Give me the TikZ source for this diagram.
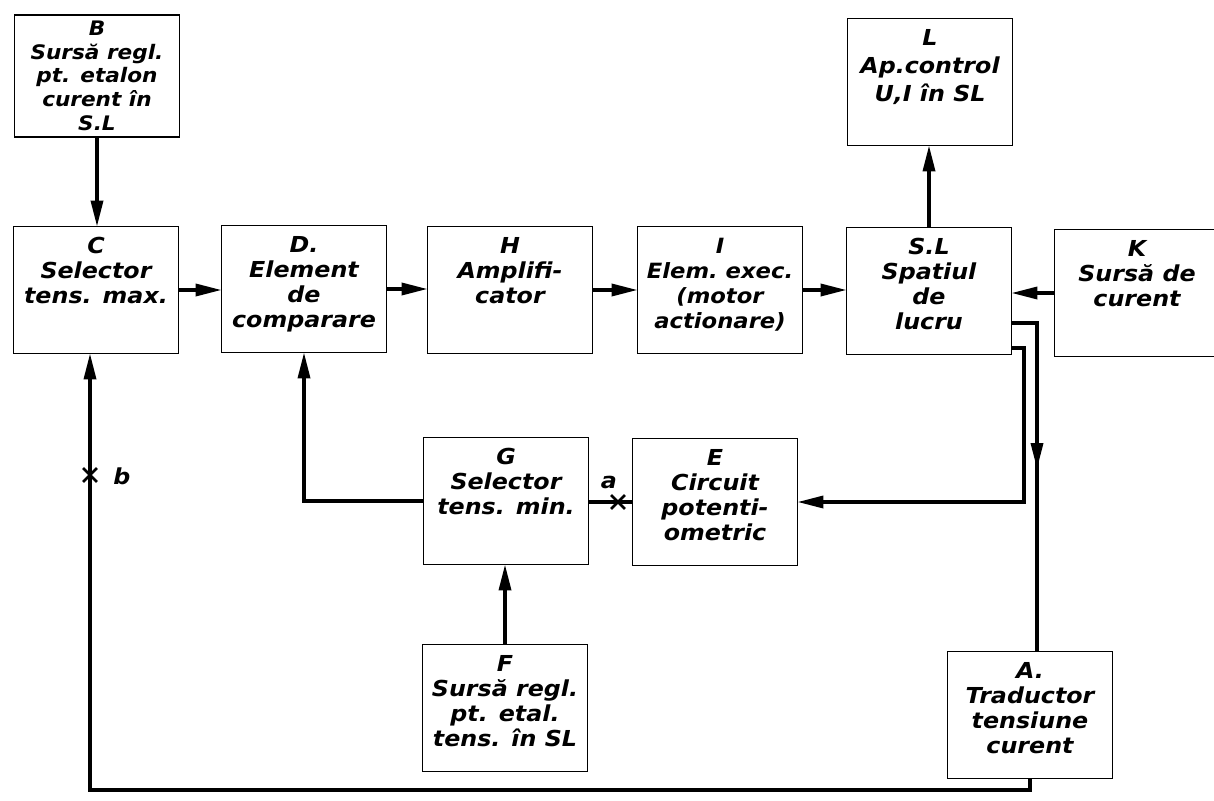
\documentclass[tikz,border=0pt]{standalone}
\usepackage{fontspec}
\setmainfont{DejaVu Sans}[FakeStretch=1.08]
\usepackage{tikz}
\usetikzlibrary{arrows.meta, positioning, shapes.misc}

\begin{document}
\begin{tikzpicture}[
  x=1pt, y=-1pt,
  blk/.style={draw, line width=1.8pt, rectangle, inner sep=5pt,
    text height=22pt, text depth=95pt,
    font=\fontsize{22}{25}\selectfont\bfseries\itshape,
    execute at begin node={\begin{minipage}[t]{155pt}\centering},
    execute at end node={\end{minipage}}},
  wire/.style={line width=3.5pt},
  arr/.style={-{Triangle[length=26pt, width=12pt]}, shorten >=-1pt},
  cut/.style={cross out, draw, line width=2.8pt, minimum size=11pt, inner sep=0pt},
  lbl/.style={font=\fontsize{22}{25}\selectfont\bfseries\itshape, inner sep=0pt}
]
  \clip (0,0) rectangle (1214,800);

  % --- upper row ---
  \node[blk, text height=16pt, text depth=96pt,
    font=\fontsize{20}{23.5}\selectfont\bfseries\itshape] (B) at (97,76)
    {B\\Sursă regl.\\pt. etalon\\curent în\\S.L};
  \node[blk, font=\fontsize{22}{28}\selectfont\bfseries\itshape] (L) at (930,82)
    {L\\Ap.control\\U,I în SL};

  % --- main chain ---
  \node[blk] (C) at (96,290) {C\\Selector\\tens. max.};
  \node[blk] (D) at (304,289) {D.\\Element\\de\\comparare};
  \node[blk] (H) at (510,290) {H\\Amplifi-\\cator};
  \node[blk, font=\fontsize{21}{25}\selectfont\bfseries\itshape] (I) at (720,290)
    {I\\Elem.~exec.\\(motor\\actionare)};
  \node[blk] (SL) at (929,291) {S.L\\Spatiul\\de\\lucru};
  \node[blk] (K) at (1137,293) {K\\Sursă de\\curent};

  % --- lower blocks ---
  \node[blk] (G) at (506,501) {G\\Selector\\tens. min.};
  \node[blk] (E) at (715,502) {E\\Circuit\\potenti-\\ometric};
  \node[blk] (F) at (505,708) {F\\Sursă regl.\\pt. etal.\\tens. în SL};
  \node[blk] (A) at (1030,715) {A.\\Traductor\\tensiune\\curent};

  % bend points
  \coordinate (tapA) at (1037,468);
  \coordinate (bendE) at (1024,502);
  \coordinate (ret) at (90,790);

  % Connections
  \draw[wire, arr] (B.south) -- (B.south |- C.north);
  \draw[wire, arr] (C.east) -- (C.east -| D.west);
  \draw[wire, arr] (D.east) -- (D.east -| H.west);
  \draw[wire, arr] (H.east) -- (H.east -| I.west);
  \draw[wire, arr] (I.east) -- (I.east -| SL.west);
  \draw[wire, arr] (K.west) -- (K.west -| SL.east);
  \draw[wire, arr] (SL.north) -- (SL.north |- L.south);

  \draw[wire] ([yshift=-32pt]SL.east) -| (tapA |- A.north);
  \draw[wire, arr] ([yshift=30pt]tapA) -- (tapA);
  \draw[wire, arr] ([yshift=-57pt]SL.east) -| (bendE) -- (E.east);
  \draw[wire] (E.west) -- (E.west -| G.east);
  \draw[wire, arr] (G.west) -| (D.south);
  \draw[wire, arr] (F.north) -- (F.north |- G.south);
  \draw[wire, arr] (A.south) |- (ret) -- (ret |- C.south);

  % cut points
  \node[cut] (cuta) at (618,502) {};
  \node[lbl] (laba) at (609,482) {a};
  \node[cut] (cutb) at (90,475) {};
  \node[lbl] (labb) at (122,476) {b};
\end{tikzpicture}
\end{document}
